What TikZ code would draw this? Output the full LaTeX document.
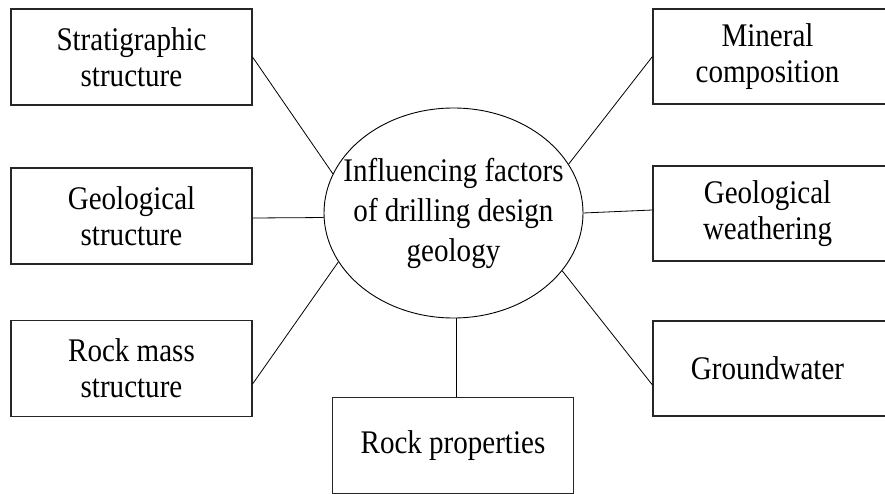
\documentclass[tikz,border=0pt]{standalone}
\usepackage{fontspec}
\setmainfont{Liberation Serif}[FakeStretch=0.88]
\usetikzlibrary{shapes.geometric}
\begin{document}
\begin{tikzpicture}[x=1pt,y=-1pt,
  box/.style={draw=black!85, line width=1.1pt, rectangle, inner sep=0pt, align=center,
    font=\fontsize{33}{36}\selectfont},
  lbox/.style={box, minimum width=241pt, minimum height=96pt},
  rbox/.style={box, minimum width=235pt, minimum height=95pt},
  lbl/.style={box, draw=none},
  link/.style={draw=black, line width=0.8pt},
  oval/.style={draw=black, line width=0.9pt, ellipse, inner sep=0pt, minimum width=259pt, minimum height=210pt},
  ctext/.style={align=center, inner sep=0pt, font=\fontsize{33}{40}\selectfont}]
\useasboundingbox (0,0) rectangle (885,494);
\fill[white] (0,0) rectangle (885,494);

\node[oval] (ell) at (453.5,213) {};
\node[ctext] (ellt) at (ell.center) {Influencing factors\\of drilling design\\geology};

\node[lbox] (strat) at (131.5,57) {Stratigraphic\\structure};
\node[lbox] (geos) at (131.5,216) {Geological\\structure};
\node[lbox] (rockm) at (131.5,368.5) {Rock mass\\structure};
\node[lbox] (rockp) at (453,445.5) {Rock properties};
\node[rbox] (mineral) at (770.5,56.5) {};
\node[lbl] (minerallbl) at (767.5,56.5) {Mineral\\composition};
\node[rbox] (weath) at (770.5,213.5) {};
\node[lbl] (weathlbl) at (767.5,213.5) {Geological\\weathering};
\node[rbox] (ground) at (770.5,368.5) {};
\node[lbl] (groundlbl) at (767.5,368.5) {Groundwater};

\draw[link] (strat.east) -- (ell.162.6);
\draw[link] ([yshift=-2pt]geos.east) -- (ell.182.6);
\draw[link] ([yshift=-15.5pt]rockm.east) -- (ell.203.3);
\draw[link] (mineral.west) -- (ell.23.2);
\draw[link] ([yshift=3.5pt]weath.west) -- (ell.0);
\draw[link] ([yshift=-16.5pt]ground.west) -- (ell.-28.5);
\draw[link] ([xshift=3pt]rockp.north) -- ([xshift=2.5pt]ell.south);
\end{tikzpicture}
\end{document}
